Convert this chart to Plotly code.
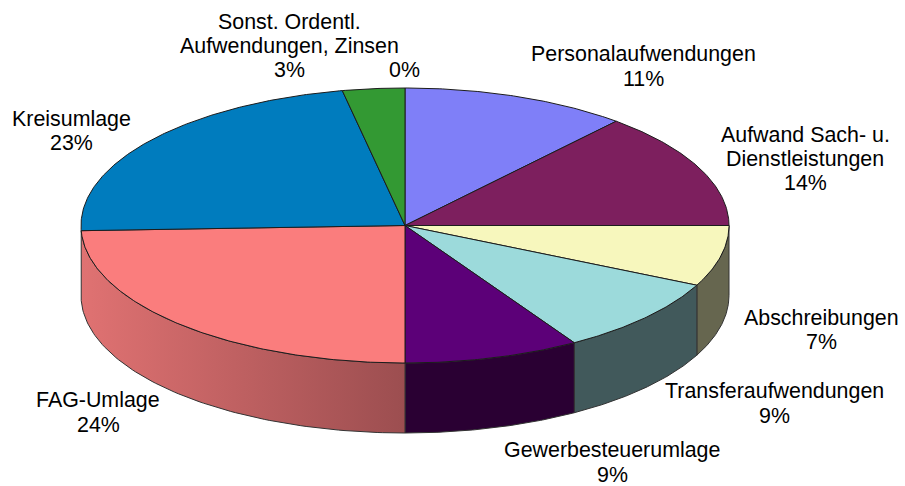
import numpy as np
import plotly.graph_objects as go

categories = ["Personalaufwendungen", "Aufwand Sach- u. Dienstleistungen", "Abschreibungen",
              "Transferaufwendungen", "Gewerbesteuerumlage", "FAG-Umlage", "Kreisumlage",
              "Sonst. Ordentl. Aufwendungen, Zinsen", "Sonstige"]
values = [11.3, 13.7, 7.15, 9.1, 8.75, 24.4, 22.5, 3.1, 0.0]
top_colors = ["#7F7FF8", "#7D1F5E", "#F7F7BD", "#9CDADB", "#5C0078", "#FA7D7D", "#007CBE", "#339933", "#339933"]
wall_left = ["#40407C", "#3F102F", "#66664F", "#41595B", "#2A0033", "#E07272", "#00507A", "#1A4D1A", "#1A4D1A"]
wall_right = ["#40407C", "#3F102F", "#66664F", "#41595B", "#2A0033", "#9C4E50", "#00507A", "#1A4D1A", "#1A4D1A"]

# label lines: text, centre x, centre y
label_lines = [
    ("Personalaufwendungen", 643.5, 54), ("11%", 643.5, 79),
    ("Aufwand Sach- u.", 805, 135), ("Dienstleistungen", 805, 159), ("14%", 805, 183),
    ("Abschreibungen", 821.5, 318), ("7%", 821.5, 342),
    ("Transferaufwendungen", 774, 391), ("9%", 774, 416),
    ("Gewerbesteuerumlage", 612, 450), ("9%", 612, 475),
    ("FAG-Umlage", 98, 400), ("24%", 98, 425),
    ("Kreisumlage", 71, 119), ("23%", 71, 143),
    ("Sonst. Ordentl.", 289, 22), ("Aufwendungen, Zinsen", 289, 46), ("3%", 289, 70), ("0%", 404, 70),
]

CX, CY, RX, RY, DEPTH = 405, 225.5, 324, 137.5, 70
OUTLINE = "#1c1c1c"


def ring(theta_deg):
    t = np.radians(theta_deg)
    return CX + RX * np.sin(t), CY - RY * np.cos(t)


fig = go.Figure()
edges = np.concatenate([[0], np.cumsum(values)]) / sum(values) * 360

# side walls (front half only)
for i, name in enumerate(categories):
    a, b = max(edges[i], 90), min(edges[i + 1], 270)
    if b - a < 3:
        continue
    th = np.linspace(a, b, 90)
    x, y = ring(th)
    xs = np.concatenate([x, x[::-1], x[:1]])
    ys = np.concatenate([y, y[::-1] + DEPTH, y[:1]])
    trace = dict(x=xs, y=ys, mode="lines", fill="toself", name=name,
                 line=dict(color="#333333", width=1), hoverinfo="skip", showlegend=False)
    if wall_left[i] == wall_right[i]:
        trace["fillcolor"] = wall_left[i]
    else:
        trace["fillgradient"] = dict(type="horizontal", colorscale=[[0, wall_left[i]], [1, wall_right[i]]])
    fig.add_trace(go.Scatter(**trace))

# top faces
for i, name in enumerate(categories):
    a, b = edges[i], edges[i + 1]
    if b - a <= 0:
        continue
    th = np.linspace(a, b, max(int(b - a) * 2, 4))
    x, y = ring(th)
    fig.add_trace(go.Scatter(
        x=np.concatenate([[CX], x, [CX]]), y=np.concatenate([[CY], y, [CY]]),
        mode="lines", fill="toself", fillcolor=top_colors[i], name=name,
        line=dict(color=OUTLINE, width=1), hoverinfo="skip", showlegend=False))

for text, lx, ly in label_lines:
    fig.add_annotation(x=lx, y=ly, text=text, showarrow=False, xanchor="center", yanchor="middle",
                       font=dict(family="Liberation Sans, Arial, sans-serif", size=21.4, color="#000000"))

fig.update_xaxes(range=[0, 905], visible=False, fixedrange=True)
fig.update_yaxes(range=[486, 0], visible=False, fixedrange=True)
fig.update_layout(width=905, height=486, margin=dict(l=0, r=0, t=0, b=0),
                  plot_bgcolor="white", paper_bgcolor="white", showlegend=False)
fig.write_html("out.html", config={"displayModeBar": False},
               post_script="document.body.style.margin='0';document.body.style.overflow='hidden';")
